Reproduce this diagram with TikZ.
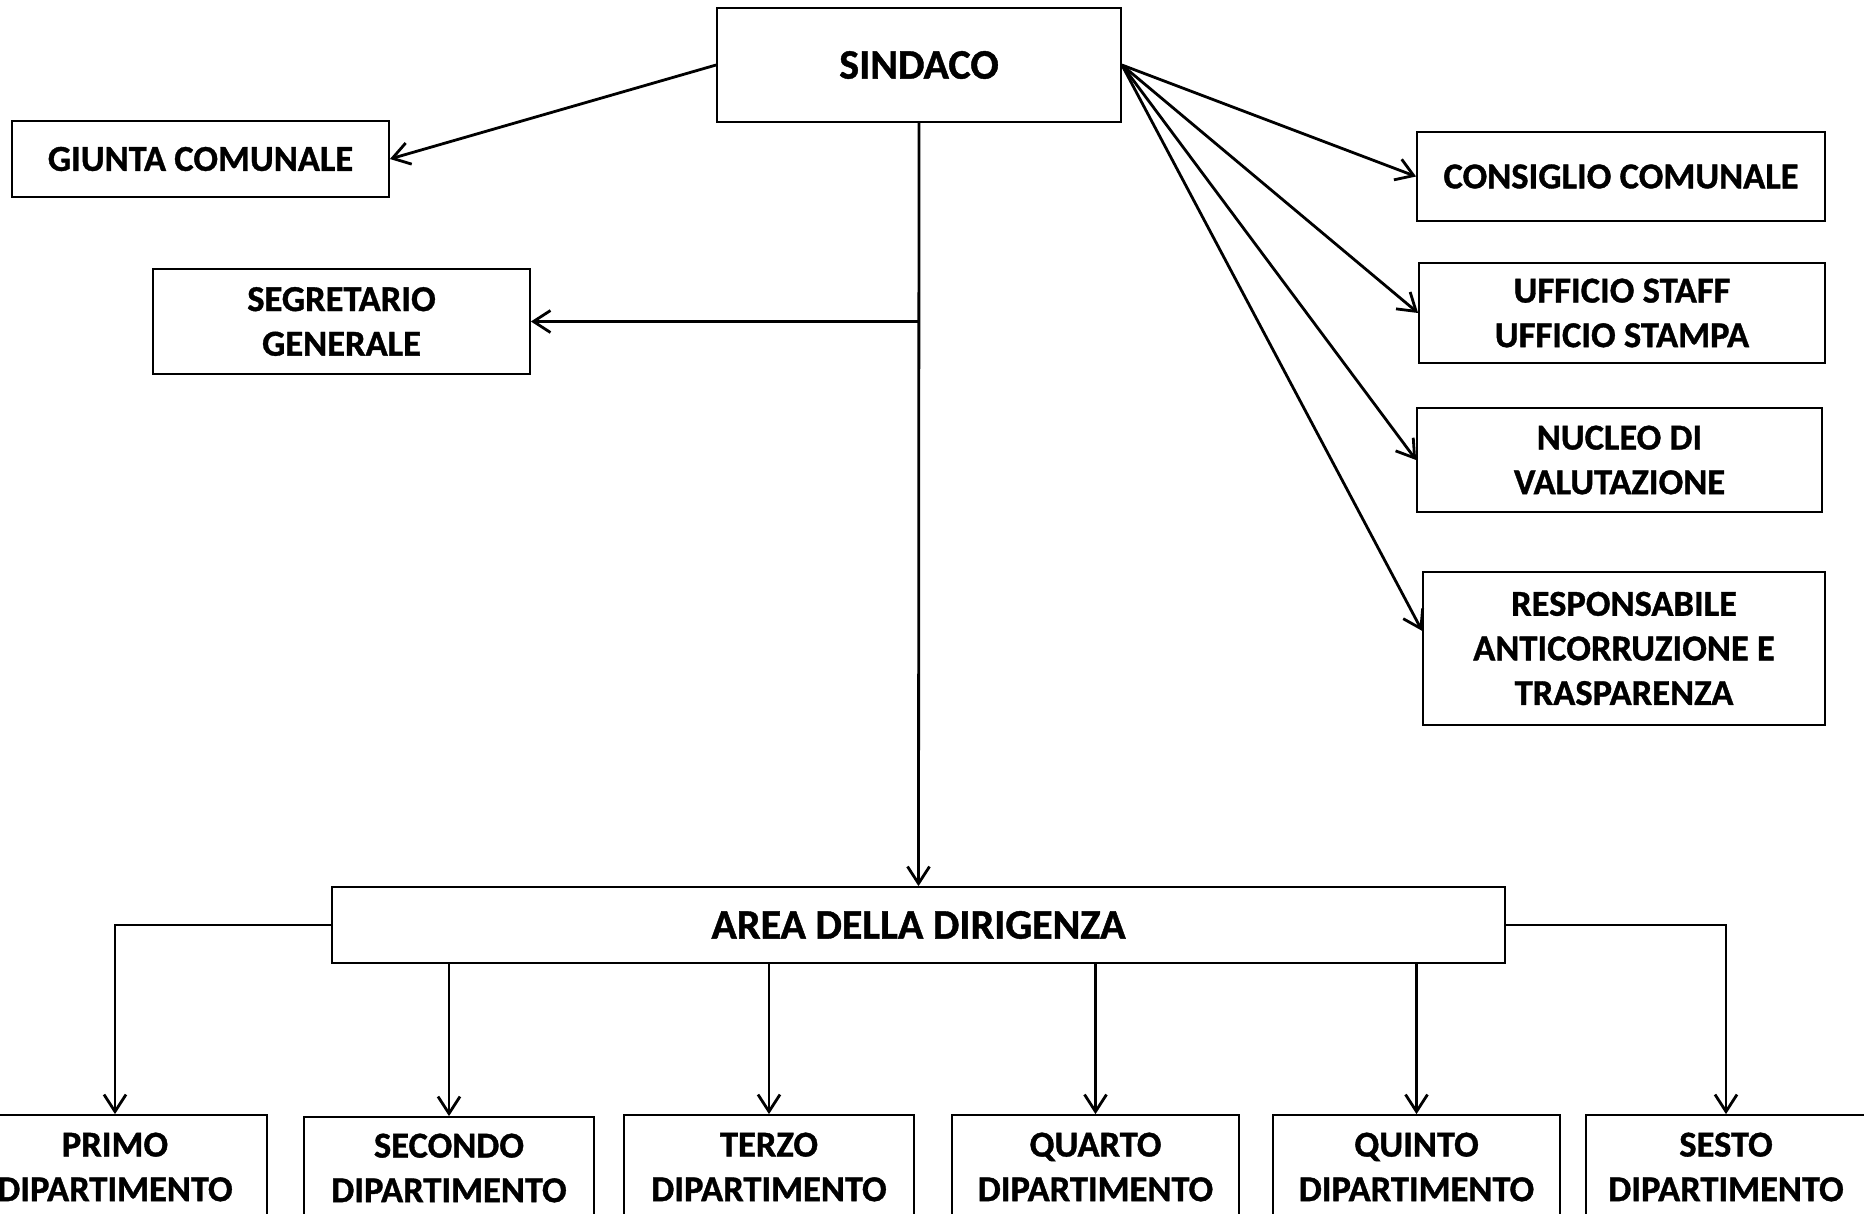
\documentclass[tikz,border=0pt]{standalone}
\usepackage{fontspec}
\setmainfont{Carlito}[BoldFeatures={FakeBold=1}]
\usetikzlibrary{arrows.meta}
\begin{document}
\begin{tikzpicture}[x=1bp,y=-1bp,
  bx/.style 2 args={draw, line width=1.8bp, inner sep=0pt, align=center,
    minimum width=#1bp, minimum height=#2bp,
    font=\fontsize{36.5bp}{44.6bp}\selectfont\bfseries},
  big/.style={font=\fontsize{42bp}{50bp}\selectfont\bfseries},
  arr/.style={line width=2.8bp, -{Straight Barb[length=17bp,width=22bp,line width=2.8bp]}},
  ln/.style={line width=2.8bp}]
\useasboundingbox (0,0) rectangle (1864,1213);
\clip (0,0) rectangle (1864,1213);
\fill[white] (0,0) rectangle (1864,1213);

% top
\node[bx={404}{114}, big] (sind) at (919,65) {SINDACO};
\node[bx={377}{76}] (giunta) at (200.5,159) {GIUNTA COMUNALE};
\node[bx={377}{105}] (segr) at (341.5,321.5) {SEGRETARIO\\GENERALE};
\node[bx={408}{89}] (cons) at (1621,176.5) {CONSIGLIO COMUNALE};
\node[bx={406}{100}] (uff) at (1622,313) {UFFICIO STAFF\\UFFICIO STAMPA};
\node[bx={405}{104}] (nuc) at (1619.5,460) {NUCLEO DI\\VALUTAZIONE};
\node[bx={402}{153}] (resp) at (1624,648.5) {RESPONSABILE\\ANTICORRUZIONE E\\TRASPARENZA};

% area
\node[bx={1173}{76}, big] (area) at (918.5,925) {AREA DELLA DIRIGENZA};

% bottom
\node[bx={304}{104}] (primo) at (115,1167) {PRIMO\\DIPARTIMENTO};
\node[bx={290}{102}] (secondo) at (449,1168) {SECONDO\\DIPARTIMENTO};
\node[bx={290}{104}] (terzo) at (769,1167) {TERZO\\DIPARTIMENTO};
\node[bx={287}{104}] (quarto) at (1095.5,1167) {QUARTO\\DIPARTIMENTO};
\node[bx={287}{104}] (quinto) at (1416.5,1167) {QUINTO\\DIPARTIMENTO};
\node[bx={280}{104}] (sesto) at (1726,1167) {SESTO\\DIPARTIMENTO};

% connectors
\draw[arr] (sind.west) -- (giunta.east);
\draw[arr] (sind.south) -- (area.north);
\coordinate (br) at (sind.south |- segr.east);
\draw[arr] (br) -- (segr.east);
\draw[arr] (sind.east) -- (cons.west);
\draw[arr] (sind.east) -- (uff.west);
\draw[arr] (sind.east) -- (nuc.west);
\draw[arr] (sind.east) -- (resp.175);

\draw[arr] (area.west) -| (primo.north);
\draw[arr] (area.east) -| (sesto.north);
\draw[arr] (area.south -| secondo.north) -- (secondo.north);
\draw[arr] (area.south -| terzo.north) -- (terzo.north);
\draw[arr] (area.south -| quarto.north) -- (quarto.north);
\draw[arr] (area.south -| quinto.north) -- (quinto.north);
\end{tikzpicture}
\end{document}
